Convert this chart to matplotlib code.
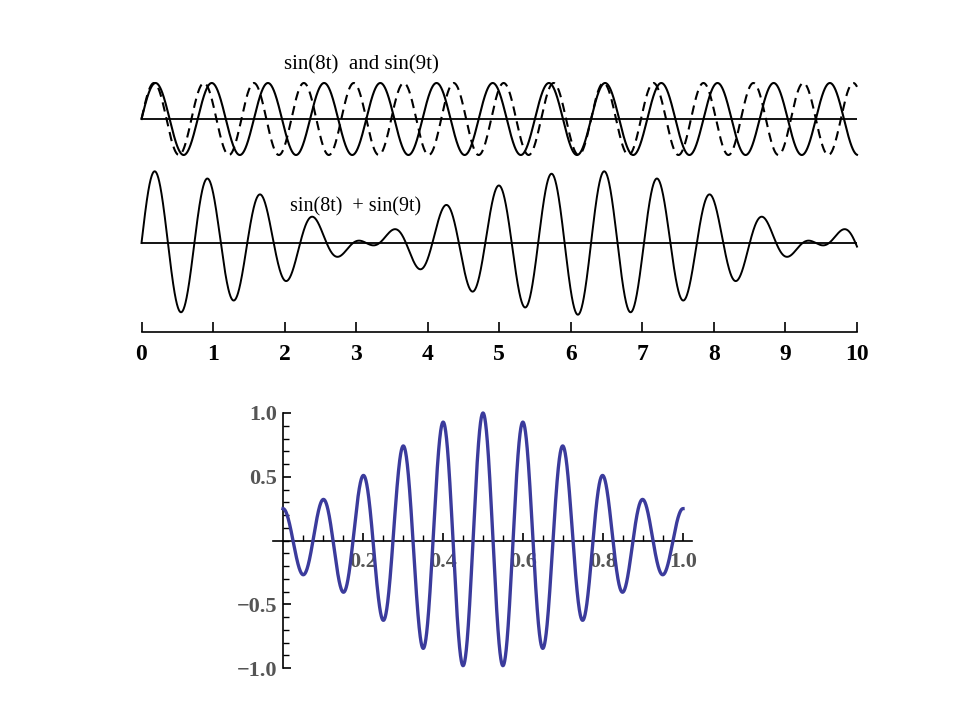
import numpy as np
import matplotlib
matplotlib.use("Agg")
import matplotlib.pyplot as plt

plt.rcParams['font.family'] = ['Liberation Serif', 'DejaVu Serif']

# top figure: two tones and their sum (beats)
freq_solid = 8      # sin(8t), solid
freq_dashed = 9     # sin(9t), dashed
t_max = 10
t_ticks = [0, 1, 2, 3, 4, 5, 6, 7, 8, 9, 10]

# bottom figure: wave packet built from three cosines
packet_freqs = [9, 10, 11]
packet_amps = [-0.1875, 0.625, -0.1875]
x_ticks = [0.2, 0.4, 0.6, 0.8, 1.0]
x_ticklabels = ["0.2", "0.4", "0.6", "0.8", "1.0"]
y_ticks = [-1.0, -0.5, 0.5, 1.0]
y_ticklabels = ["\u22121.0", "\u22120.5", "0.5", "1.0"]

W, H = 960, 720
fig = plt.figure(figsize=(W / 100, H / 100), dpi=100)


def box(left, top, right, bottom):
    return [left / W, 1 - bottom / H, (right - left) / W, (bottom - top) / H]


t = np.linspace(0, t_max, 4000)
s1 = np.sin(freq_solid * t)
s2 = np.sin(freq_dashed * t)

# --- sin(8t) and sin(9t)
ax1 = fig.add_axes(box(141.5, 83, 857, 155))
ax1.plot(t, s1, color='black', lw=1.5, clip_on=False)
ax1.plot(t, s2, color='black', lw=1.5, ls=(0, (4.5, 2.8)), clip_on=False)
ax1.plot([0, t_max], [0, 0], color='black', lw=1.3)
ax1.set_xlim(0, t_max)
ax1.set_ylim(-1, 1)
ax1.axis('off')
fig.text(361 / W, 1 - 65 / H, "sin(8t)  and sin(9t)", fontsize=15,
         ha='center', va='center')

# --- sum, with the t axis underneath
ax2 = fig.add_axes(box(141.5, 165, 857, 332))
ax2.plot(t, s1 + s2, color='black', lw=1.4, clip_on=False)
ax2.plot([0, t_max], [0, 0], color='black', lw=1.3)
ax2.set_xlim(0, t_max)
ax2.set_ylim(-(332 - 243) / 36, (243 - 165) / 36)
for side in ['top', 'left', 'right']:
    ax2.spines[side].set_visible(False)
ax2.spines['bottom'].set_linewidth(1.2)
ax2.set_yticks([])
ax2.set_xticks(t_ticks)
ax2.tick_params(axis='x', direction='in', length=7, width=1.2, pad=9,
                labelsize=17)
for lab in ax2.get_xticklabels():
    lab.set_fontweight('bold')
fig.text(356 / W, 1 - 207 / H, "sin(8t)  + sin(9t)", fontsize=14.5,
         ha='center', va='center')

# --- wave packet (Mathematica style)
x = np.linspace(0, 1, 3000)
y = np.zeros_like(x)
for f, a in zip(packet_freqs, packet_amps):
    y += a * np.cos(2 * np.pi * f * x)

ax3 = fig.add_axes(box(273, 413, 692, 668))
ax3.plot(x, y, color='#3b3b9c', lw=2.4, clip_on=False, zorder=3)
ax3.set_xlim(-0.025, 1.0225)
ax3.set_ylim(-1, 1)
for side in ['top', 'right']:
    ax3.spines[side].set_visible(False)
ax3.spines['left'].set_position(('data', 0))
ax3.spines['bottom'].set_position(('data', 0))
ax3.spines['left'].set_linewidth(1.2)
ax3.spines['bottom'].set_linewidth(1.2)
ax3.set_xticks(x_ticks)
ax3.set_xticklabels(x_ticklabels)
ax3.set_xticks(np.arange(0.05, 1.01, 0.05), minor=True)
ax3.set_yticks(y_ticks)
ax3.set_yticklabels(y_ticklabels)
ax3.set_yticks(np.arange(-0.9, 0.95, 0.1), minor=True)
ax3.tick_params(which='major', direction='in', length=6, width=1.2,
                labelsize=16, labelcolor='#555555')
ax3.tick_params(which='minor', direction='in', length=4, width=1.0)
ax3.tick_params(axis='x', pad=8)
ax3.tick_params(axis='y', pad=4)
for lab in ax3.get_xticklabels() + ax3.get_yticklabels():
    lab.set_fontweight('bold')
ax3.set_facecolor('none')

fig.savefig("out.png", dpi=100)
